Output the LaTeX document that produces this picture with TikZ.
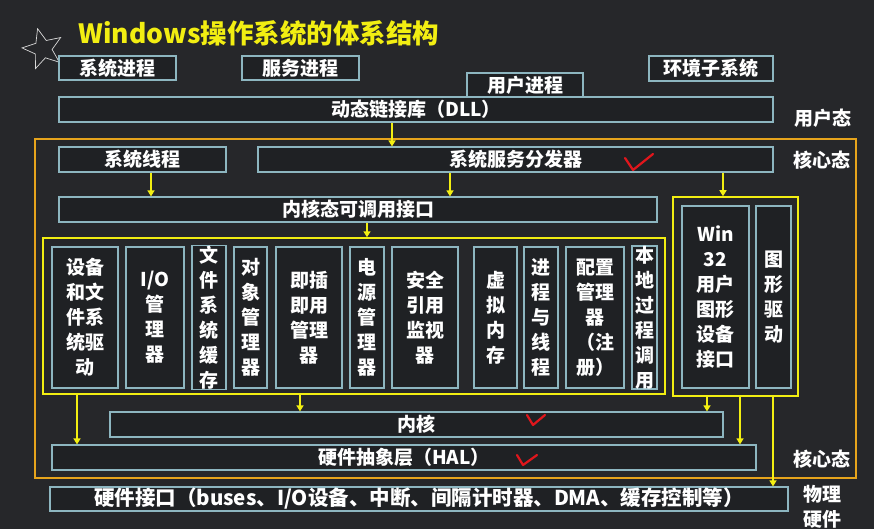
\documentclass[tikz,border=0pt]{standalone}
\usepackage{fontspec}
\setmainfont{Noto Sans CJK SC}
\usetikzlibrary{arrows.meta,shapes.geometric}

\definecolor{bgdark}{HTML}{26272A}
\definecolor{boxfill}{HTML}{1F2124}
\definecolor{boxline}{HTML}{8DB6C0}
\definecolor{hotyellow}{HTML}{F2EE12}
\definecolor{kernorange}{HTML}{E6A41C}
\definecolor{tickred}{HTML}{E0161C}

\tikzset{
  layer/.style={draw=boxline, fill=boxfill, line width=1.2pt, text=white,
    inner sep=0pt, align=center, font=\fontsize{19}{25}\selectfont\bfseries},
  module/.style={layer, minimum height=141pt},
  group/.style={draw=hotyellow, line width=1.5pt, inner sep=0pt},
  arr/.style={draw=hotyellow, line width=1.5pt, -{Triangle[width=7pt,length=6pt]}},
  modelabel/.style={text=white, align=center, font=\fontsize{19}{25}\selectfont\bfseries},
  tick/.style={draw=tickred, line width=2.2pt, line cap=round, line join=round}
}

\begin{document}
\begin{tikzpicture}[x=1pt, y=-1pt]
    \useasboundingbox (0,0) rectangle (874,529);
    \fill[bgdark] (0,0) rectangle (874,529);
    \node[star, star points=5, star point ratio=2.3, draw=gray!30, line width=0.7pt,
          minimum size=42pt, rotate=15] (deco) at (43,49) {};

    \node[anchor=west, text=hotyellow, font=\fontsize{26.5}{30}\selectfont\bfseries] (title) at (75,33)
        {Windows操作系统的体系结构};

    % user mode
    \node[layer, minimum width=117pt, minimum height=24pt] (sysproc) at (117.5,68) {系统进程};
    \node[layer, minimum width=117pt, minimum height=24pt] (svcproc) at (300.5,68) {服务进程};
    \node[layer, minimum width=124pt, minimum height=25pt] (envsub) at (711,68.5) {环境子系统};
    \node[layer, minimum width=116pt, minimum height=25pt] (userproc) at (525,85.5) {用户进程};
    \node[layer, minimum width=714pt, minimum height=25pt] (dll) at (416,109.5) {动态链接库（DLL）};
    \node[modelabel] (umode) at (823,118) {用户态};

    % kernel mode
    \node[draw=kernorange, line width=1.5pt, minimum width=821pt, minimum height=339pt] (kmode) at (445.5,308.5) {};
    \node[modelabel] (kmodetop) at (822,160) {核心态};
    \node[modelabel] (kmodebot) at (822,459) {核心态};

    \node[layer, minimum width=167pt, minimum height=25pt] (systhread) at (142.5,159.5) {系统线程};
    \node[layer, minimum width=515pt, minimum height=25pt] (dispatch) at (515.5,159.5) {系统服务分发器};
    \node[layer, minimum width=598pt, minimum height=25pt] (kcall) at (358,209.5) {内核态可调用接口};

    \node[group, minimum width=622pt, minimum height=156pt] (modgrp) at (354,316) {};
    \node[group, minimum width=125pt, minimum height=199pt] (w32grp) at (735.5,296.5) {};

    \node[module, minimum width=66pt] (devdrv) at (85,317.5) {设备\\和文\\件系\\统驱\\动};
    \node[module, minimum width=58pt] (iomgr) at (155,317.5) {I/O\\管\\理\\器};
    \node[module, minimum width=34pt] (fscache) at (209,317.5) {文\\件\\系\\统\\缓\\存};
    \node[module, minimum width=33pt] (objmgr) at (250.5,317.5) {对\\象\\管\\理\\器};
    \node[module, minimum width=66pt] (pnpmgr) at (309,317.5) {即插\\即用\\管理\\器};
    \node[module, minimum width=34pt] (powmgr) at (367,317.5) {电\\源\\管\\理\\器};
    \node[module, minimum width=66pt] (secref) at (425,317.5) {安全\\引用\\监视\\器};
    \node[module, minimum width=43pt] (vmem) at (495.5,317.5) {虚\\拟\\内\\存};
    \node[module, minimum width=34pt] (procthr) at (541,317.5) {进\\程\\与\\线\\程};
    \node[module, minimum width=58pt] (cfgmgr) at (595,317.5) {配置\\管理\\器\\（注\\册）};
    \node[module, minimum width=25pt] (lpc) at (644.5,317.5) {本\\地\\过\\程\\调\\用};

    \node[layer, minimum width=67pt, minimum height=182pt] (win32) at (715.5,297) {Win\\32\\用户\\图形\\设备\\接口};
    \node[layer, minimum width=35pt, minimum height=182pt] (gdrv) at (773.5,297) {图\\形\\驱\\动};

    \node[layer, minimum width=613pt, minimum height=25pt] (kernel) at (416.5,424.5) {内核};
    \node[layer, minimum width=704pt, minimum height=25pt] (hal) at (404,457.5) {硬件抽象层（HAL）};

    % hardware
    \node[layer, minimum width=738pt, minimum height=24pt, font=\fontsize{20.5}{25}\selectfont\bfseries] (hwif) at (419,499)
        {硬件接口（buses、I/O设备、中断、间隔计时器、DMA、缓存控制等）};
    \node[modelabel, anchor=north] (hwlabel) at (822,482) {物理\\硬件};

    \coordinate (c1) at (392,0);
    \coordinate (c2) at (151,0);
    \coordinate (c3) at (450,0);
    \coordinate (c4) at (723,0);
    \coordinate (c5) at (367,0);
    \coordinate (c6) at (77,0);
    \coordinate (c7) at (300,0);
    \coordinate (c8) at (707,0);
    \coordinate (c9) at (740,0);
    \coordinate (c10) at (773,0);
    \draw[arr] (c1 |- dll.south) -- (c1 |- dispatch.north);
    \draw[arr] (c2 |- systhread.south) -- (c2 |- kcall.north);
    \draw[arr] (c3 |- dispatch.south) -- (c3 |- kcall.north);
    \draw[arr] (c4 |- dispatch.south) -- (c4 |- w32grp.north);
    \draw[arr] (c5 |- kcall.south) -- (c5 |- modgrp.north);
    \draw[arr] (c6 |- modgrp.south) -- (c6 |- hal.north);
    \draw[arr] (c7 |- modgrp.south) -- (c7 |- kernel.north);
    \draw[arr] (c8 |- w32grp.south) -- (c8 |- kernel.north);
    \draw[arr] (c9 |- w32grp.south) -- (c9 |- hal.north);
    \draw[arr] (c10 |- w32grp.south) -- (c10 |- hwif.north);

    \draw[tick] (625,158) -- (633,170) -- (653,154);
    \draw[tick] (527,415) -- (533,425) -- (545,415);
    \draw[tick] (517,455) -- (523,465) -- (537,455);
\end{tikzpicture}
\end{document}
